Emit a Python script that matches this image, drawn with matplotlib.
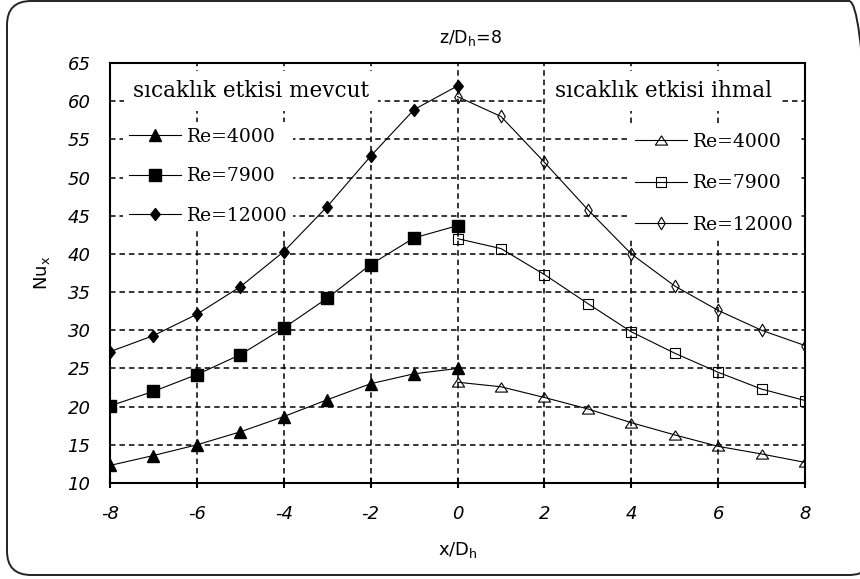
import matplotlib
matplotlib.use("Agg")
import matplotlib.pyplot as plt
from matplotlib.patches import FancyBboxPatch
from matplotlib.path import Path

# Local Nusselt number along x/Dh at z/Dh = 8
x_left = [-8, -7, -6, -5, -4, -3, -2, -1, 0]
x_right = [0, 1, 2, 3, 4, 5, 6, 7, 8]

# with temperature effect (filled markers)
nu_re4000_with = [12.3, 13.6, 15.0, 16.7, 18.7, 20.9, 23.0, 24.3, 25.0]
nu_re7900_with = [20.1, 22.0, 24.2, 26.8, 30.3, 34.2, 38.6, 42.1, 43.7]
nu_re12000_with = [27.2, 29.3, 32.1, 35.7, 40.3, 46.2, 52.8, 58.9, 62.0]

# temperature effect neglected (open markers)
nu_re4000_without = [23.2, 22.6, 21.2, 19.7, 17.9, 16.3, 14.8, 13.8, 12.7]
nu_re7900_without = [42.0, 40.7, 37.3, 33.5, 29.8, 27.0, 24.5, 22.3, 20.8]
nu_re12000_without = [60.6, 58.0, 52.0, 45.8, 40.0, 35.8, 32.6, 30.0, 28.0]

labels = ["Re=4000", "Re=7900", "Re=12000"]
x_ticks = [-8, -6, -4, -2, 0, 2, 4, 6, 8]
y_ticks = [10, 15, 20, 25, 30, 35, 40, 45, 50, 55, 60, 65]

plt.rcParams["font.family"] = ["DejaVu Sans"]
plt.rcParams["axes.unicode_minus"] = False

W, H = 860, 579
fig = plt.figure(figsize=(W / 100, H / 100), dpi=100)
fig.patch.set_facecolor("white")

# rounded chart-area border
frame = FancyBboxPatch((7 / 100, 4 / 100), 8.66, 5.74,
                       boxstyle="round,pad=0,rounding_size=0.24",
                       transform=fig.dpi_scale_trans, fc="none",
                       ec="#222222", lw=1.4, clip_on=False)
fig.patches.append(frame)

ax = fig.add_axes([110 / W, 1 - 483 / H, 695 / W, 420 / H])


def closed_marker(pts):
    verts = list(pts) + [pts[0]]
    codes = [Path.MOVETO] + [Path.LINETO] * (len(pts) - 1) + [Path.CLOSEPOLY]
    return Path(verts, codes)


tri_open = closed_marker([(0, 0.75), (-1, -0.75), (1, -0.75)])
dia_fill = closed_marker([(0, 1), (0.8, 0), (0, -1), (-0.8, 0)])
dia_open = closed_marker([(0, 1), (0.6, 0), (0, -1), (-0.6, 0)])

line_kw = dict(color="black", lw=0.8)
h1, = ax.plot(x_left, nu_re4000_with, marker="^", ms=8.5, mfc="black", mec="black", **line_kw)
h2, = ax.plot(x_left, nu_re7900_with, marker="s", ms=8.0, mfc="black", mec="black", **line_kw)
h3, = ax.plot(x_left, nu_re12000_with, marker=dia_fill, ms=8.6, mfc="black", mec="black", **line_kw)

o1, = ax.plot(x_right, nu_re4000_without, marker=tri_open, ms=8.8, mfc="none", mec="black", mew=0.8, **line_kw)
o2, = ax.plot(x_right, nu_re7900_without, marker="s", ms=7.2, mfc="none", mec="black", mew=0.8, **line_kw)
o3, = ax.plot(x_right, nu_re12000_without, marker=dia_open, ms=9.0, mfc="none", mec="black", mew=0.8, **line_kw)

ax.set_xlim(-8, 8)
ax.set_ylim(10, 65)
ax.set_xticks(x_ticks)
ax.set_yticks(y_ticks)
ax.grid(True, color="black", linestyle=(0, (3.6, 2.6)), linewidth=1.1)
for s in ax.spines.values():
    s.set_linewidth(1.5)

ax.tick_params(axis="x", direction="inout", length=7, width=1.5, pad=12,
               labelsize=13)
ax.tick_params(axis="y", length=0, pad=14, labelsize=13)
for t in ax.get_xticklabels() + ax.get_yticklabels():
    t.set_fontstyle("italic")

ax.set_xlabel(r"x/D$_\mathregular{h}$", fontsize=13)
ax.xaxis.set_label_coords(0.5, (483 - 555) / 420)
ax.xaxis.label.set_verticalalignment("baseline")
ax.set_ylabel(r"Nu$_\mathregular{x}$", fontsize=13)
ax.yaxis.set_label_coords((42 - 110) / 695, 0.5)
ax.yaxis.label.set_verticalalignment("center")

fig.text(471 / W, 1 - 43 / H, r"z/D$_\mathregular{h}$=8", ha="center",
         va="baseline", fontsize=12.5)

serif = "DejaVu Serif"
box = dict(boxstyle="square,pad=0.4", fc="white", ec="none")
ax.text((133 - 110) / 695, (483 - 97) / 420, "sıcaklık etkisi mevcut",
        transform=ax.transAxes, family=serif, fontsize=15.5, va="baseline",
        bbox=box, zorder=4)
ax.text((555 - 110) / 695, (483 - 97) / 420, "sıcaklık etkisi ihmal",
        transform=ax.transAxes, family=serif, fontsize=15.5, va="baseline",
        bbox=box, zorder=4)

leg_kw = dict(loc="upper left", frameon=True, facecolor="white",
              edgecolor="none", framealpha=1, fancybox=False,
              borderpad=0.3, handlelength=2.8, handletextpad=0.3,
              borderaxespad=0,
              prop={"family": serif, "size": 13.5},
              bbox_transform=fig.transFigure)
leg1 = ax.legend([h1, h2, h3], labels, labelspacing=1.15,
                 bbox_to_anchor=(123 / W, 1 - 122 / H), **leg_kw)
ax.add_artist(leg1)
leg2 = ax.legend([o1, o2, o3], labels, labelspacing=1.25,
                 bbox_to_anchor=(629 / W, 1 - 127 / H), **leg_kw)

fig.savefig("out.png", dpi=100)
